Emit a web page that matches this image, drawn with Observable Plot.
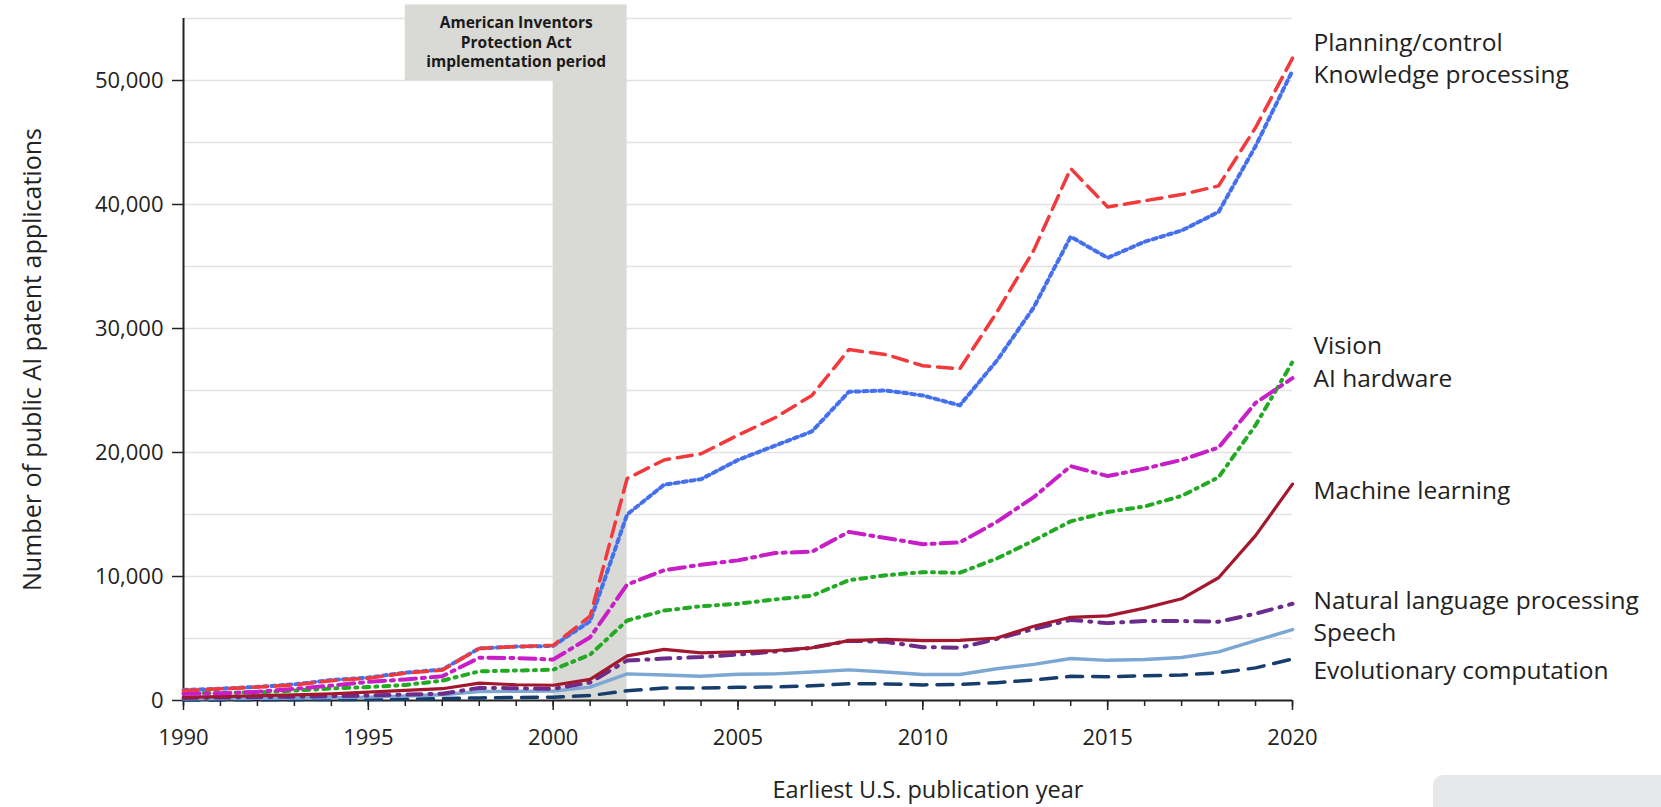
<!DOCTYPE html>
<html><head><meta charset="utf-8">
<script src="https://cdn.jsdelivr.net/npm/d3@7"></script>
<script src="https://cdn.jsdelivr.net/npm/@observablehq/plot@0.6"></script>
<style>
html,body{margin:0;padding:0;background:#fff;}
#wrap{position:relative;width:1661px;height:807px;overflow:hidden;}
#logo{position:absolute;left:1433px;top:775px;width:260px;height:60px;background:#e6e7e9;border-radius:10px;overflow:hidden;}
</style></head><body>
<div id="wrap"><div id="chart"></div><div id="logo"></div></div>
<script>
const years = [1990,1991,1992,1993,1994,1995,1996,1997,1998,1999,2000,2001,2002,2003,2004,2005,2006,2007,2008,2009,2010,2011,2012,2013,2014,2015,2016,2017,2018,2019,2020];

const seriesNames = ["Planning/control","Knowledge processing","Vision","AI hardware","Machine learning","Natural language processing","Speech","Evolutionary computation"];

const planningControl = [800,940,1080,1250,1600,1800,2200,2450,4200,4350,4450,6800,17900,19400,19900,21400,22800,24600,28300,27900,27000,26750,31300,36300,42900,39800,40300,40800,41500,46200,51800];
const knowledgeProcessing = [850,950,1100,1300,1650,1850,2250,2500,4200,4350,4400,6400,15000,17400,17850,19400,20550,21700,24900,25000,24600,23800,27400,31700,37400,35700,37000,37900,39400,44700,50800];
const vision = [600,620,650,800,970,1080,1250,1600,2350,2420,2480,3700,6450,7250,7600,7800,8150,8450,9700,10100,10350,10300,11450,12900,14450,15200,15650,16500,18000,22200,27300];
const aiHardware = [550,580,700,950,1200,1500,1700,1950,3450,3420,3300,5100,9350,10500,10950,11300,11900,12000,13600,13100,12600,12750,14400,16400,18900,18100,18700,19400,20400,24000,26000];
const machineLearning = [270,320,400,460,540,680,810,950,1400,1270,1230,1700,3600,4120,3840,3930,4030,4250,4830,4930,4830,4850,5040,5990,6710,6820,7450,8200,9900,13300,17450];
const nlp = [210,240,270,310,350,400,470,550,1020,990,940,1450,3230,3380,3500,3700,3950,4250,4820,4730,4300,4260,4970,5760,6500,6240,6410,6410,6350,7000,7800];
const speech = [130,150,170,200,230,270,360,460,730,740,760,1080,2150,2060,1950,2120,2150,2300,2470,2300,2100,2100,2560,2910,3390,3240,3310,3470,3920,4820,5720];
const evolutionary = [40,50,60,70,80,90,120,150,210,240,270,400,780,1000,1000,1060,1090,1190,1350,1340,1260,1290,1440,1650,1950,1920,2000,2060,2230,2630,3350];

const seriesValues = [planningControl, knowledgeProcessing, vision, aiHardware, machineLearning, nlp, speech, evolutionary];

const yTicks = [0,10000,20000,30000,40000,50000];
const gridTicks = [5000,10000,15000,20000,25000,30000,35000,40000,45000,50000,55000];
const xMajorTicks = [1990,1995,2000,2005,2010,2015,2020];

const actPeriod = [2000, 2002];
const actLabel = "American Inventors\nProtection Act\nimplementation period";

// styles (colour, dash, width, label nudge in px)
const styles = [
  {stroke:"#f23a3c", dash:"15,8", width:3.5, dy:-15},
  {stroke:"#4470ee", dash:"4,4", width:4, dy:5},
  {stroke:"#22aa22", dash:"6,6,2,6", width:4, dy:-15.5},
  {stroke:"#c81ec8", dash:"16,6,3,6", width:4, dy:1},
  {stroke:"#a3182e", dash:null, width:3.2, dy:7},
  {stroke:"#6b2c8c", dash:"14,8,2,8", width:4, dy:-2.5},
  {stroke:"#7ba7d2", dash:null, width:3.4, dy:3.5},
  {stroke:"#173e6b", dash:"16,10", width:3.5, dy:12.5}
];

const tables = seriesValues.map((vals, i) => vals.map((v, j) => ({year: years[j], value: v, series: seriesNames[i]})));
const drawOrder = [7,6,5,4,2,3,1,0];

const marks = [
  Plot.gridY(gridTicks, {stroke:"#e2e2e2", strokeOpacity:1, strokeWidth:1.6}),
  Plot.rect([0], {x1: actPeriod[0], x2: actPeriod[1], y1: 0, y2: 50000, fill:"#d9d9d6"}),
  Plot.rect([0], {x1: 1996, x2: actPeriod[1], y1: 50000, y2: 56100, fill:"#d9d9d6"}),
  Plot.text([actLabel], {x: 1999, y: 53150, text: d => d, fontWeight:"bold", fontSize:15.5, lineHeight:1.25, fill:"#1a1a1a"}),
  Plot.axisX(years, {tickSize:6, text:null, stroke:"#222", strokeWidth:1.5}),
  Plot.axisX(xMajorTicks, {tickSize:10, tickPadding:19, tickFormat: d => String(d), fontSize:22, fill:"#222", stroke:"#222", strokeWidth:1.5, label:null}),
  Plot.axisY(yTicks, {tickSize:11, tickPadding:9, tickFormat: d => d3.format(",")(d), fontSize:22, fill:"#222", stroke:"#222", strokeWidth:1.5, label:null}),
  Plot.ruleY([0], {stroke:"#222", strokeWidth:2}),
  Plot.ruleX([1990], {y1:0, y2:55000, stroke:"#222", strokeWidth:2}),
  ...drawOrder.map(i => Plot.line(tables[i], {x:"year", y:"value", stroke: styles[i].stroke, strokeWidth: styles[i].width, strokeDasharray: styles[i].dash, strokeLinejoin:"round"})),
  ...seriesNames.map((name, i) => Plot.text([name], {x: years[years.length-1], y: seriesValues[i][seriesValues[i].length-1], text: d => d, dx: 21, dy: styles[i].dy, textAnchor:"start", lineAnchor:"middle", fontSize:24.5, fill:"#222"})),
  Plot.text(["Number of public AI patent applications"], {frameAnchor:"left", text: d => d, rotate:-90, dx:-151, textAnchor:"middle", lineAnchor:"middle", fontSize:25, fill:"#222"}),
  Plot.text(["Earliest U.S. publication year"], {frameAnchor:"bottom", text: d => d, dx:190, dy:90, textAnchor:"middle", lineAnchor:"middle", fontSize:23.5, fill:"#222"})
];

const chart = Plot.plot({
  width:1661, height:807,
  marginLeft:183, marginRight:369, marginTop:18, marginBottom:107,
  x:{domain:[1990,2020], axis:null},
  y:{domain:[0,55000], axis:null},
  style:{fontFamily:"'Open Sans', sans-serif", fontSize:"22px", color:"#222", background:"#fff", overflow:"visible"},
  marks
});
document.getElementById("chart").appendChild(chart);
</script>
</body></html>
